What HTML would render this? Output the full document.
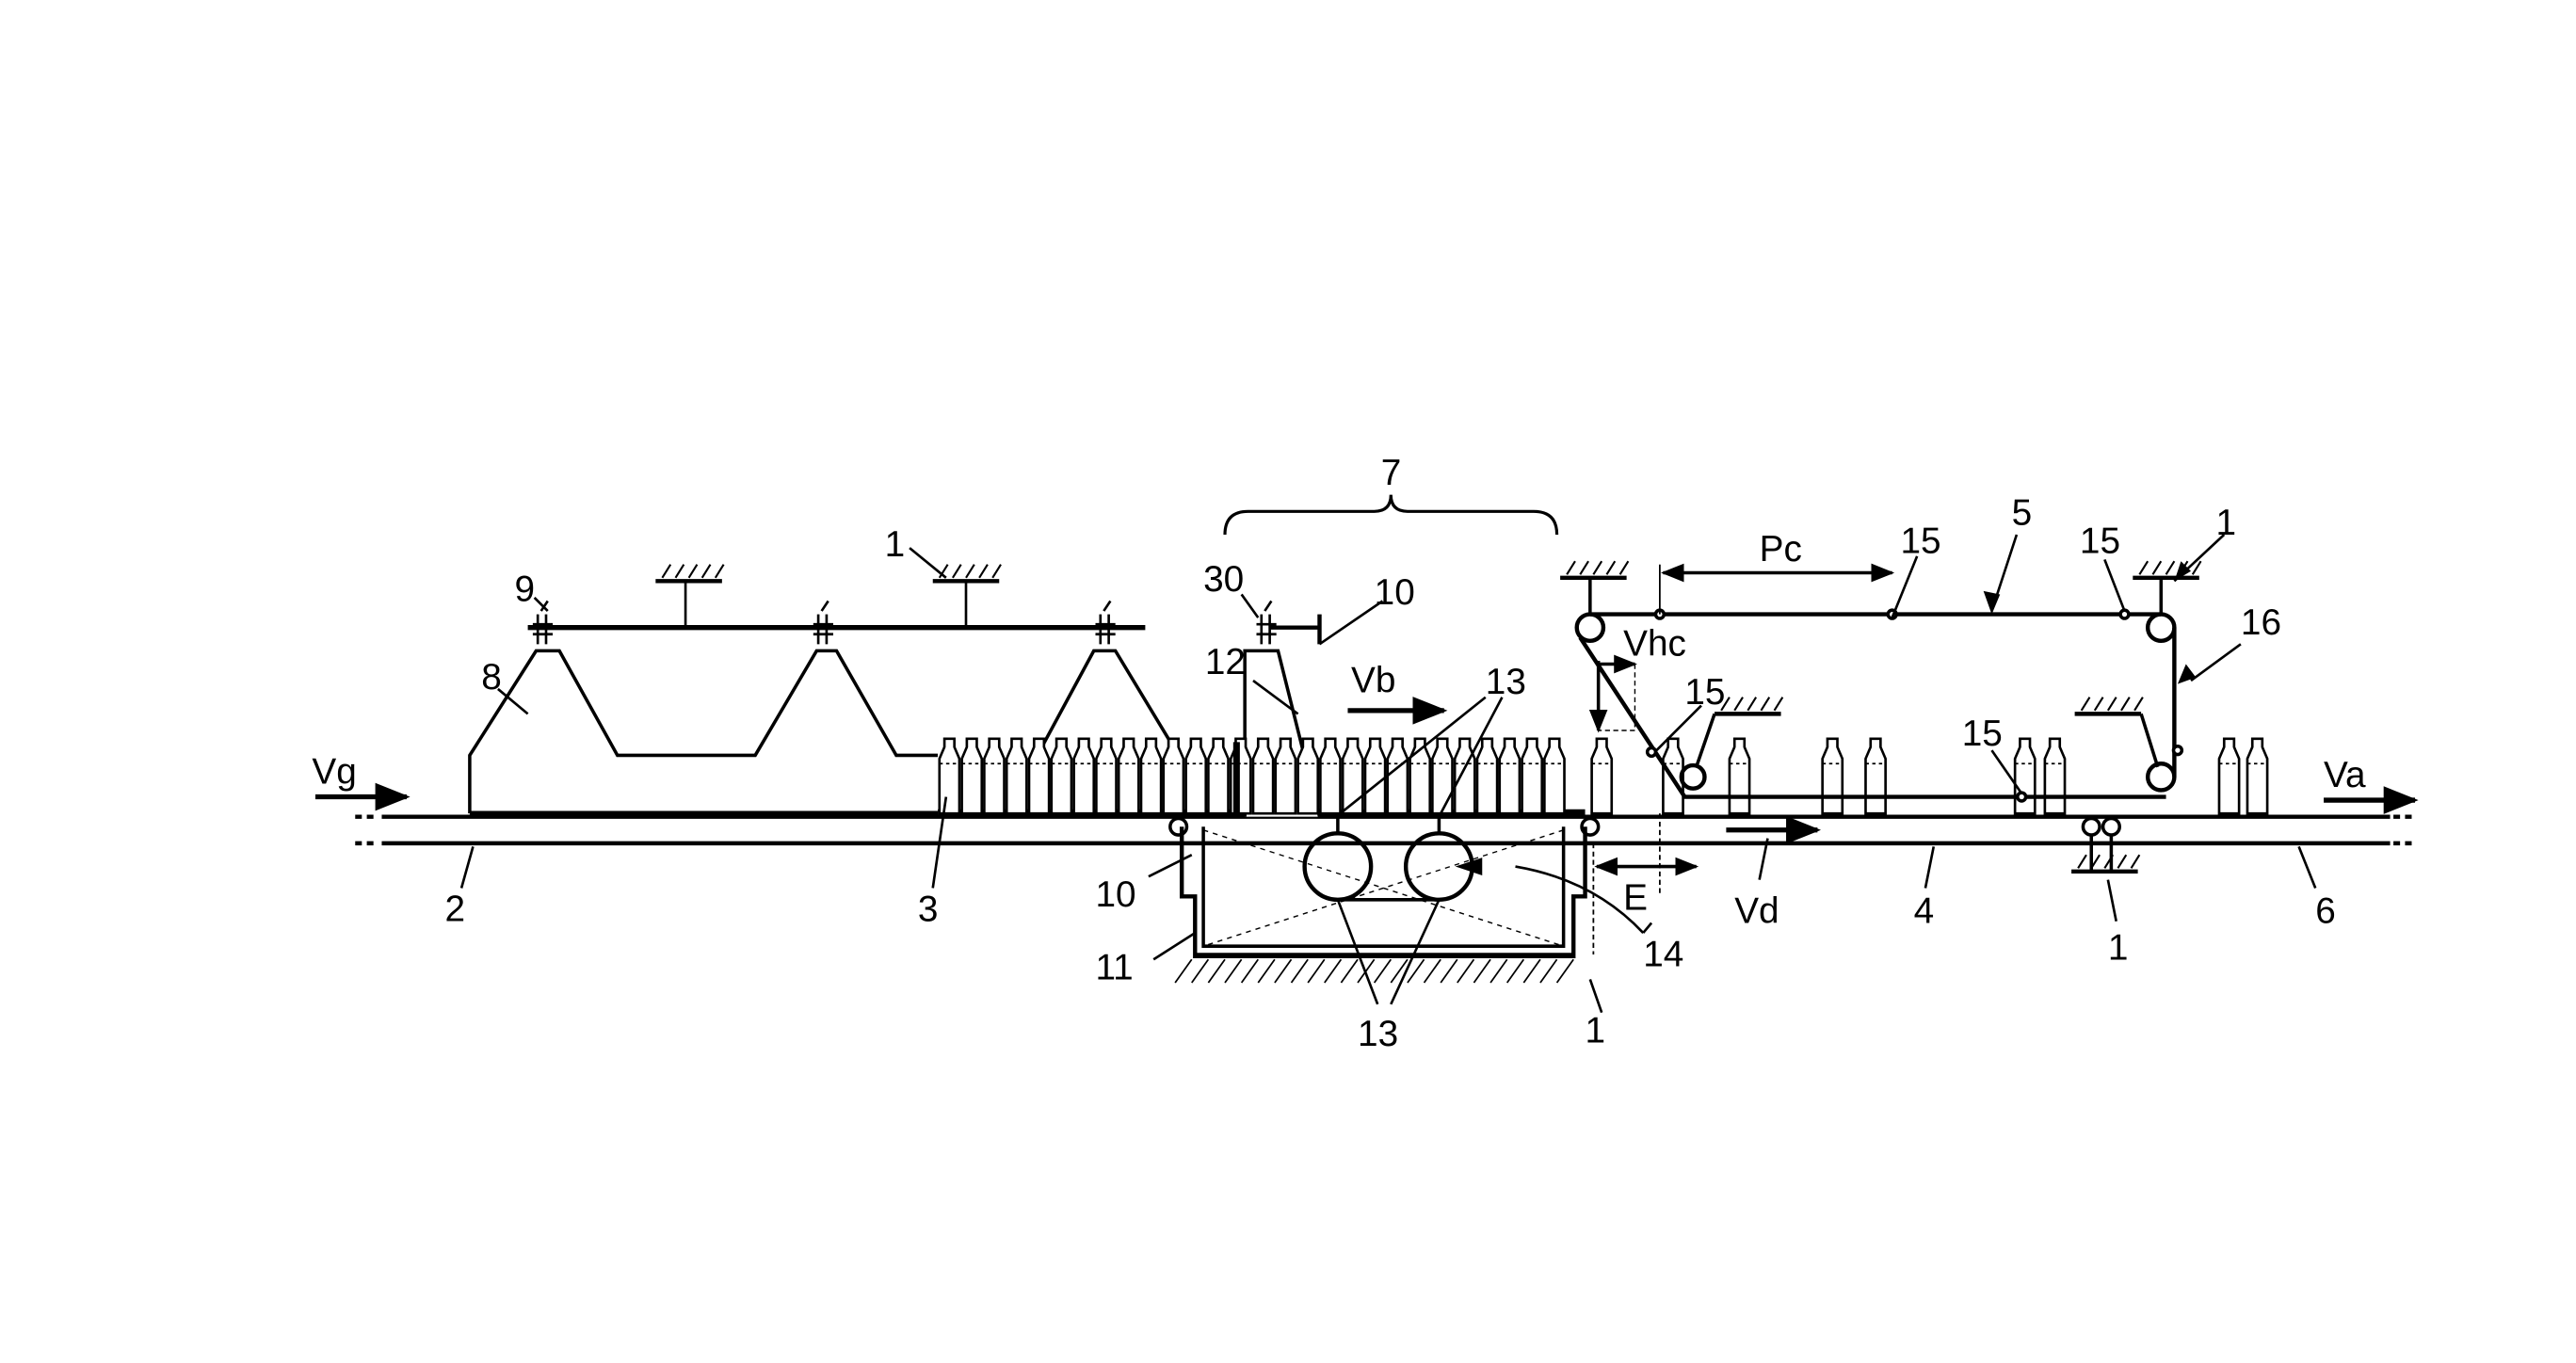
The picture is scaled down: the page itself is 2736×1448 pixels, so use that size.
<!DOCTYPE html>
<html><head><meta charset="utf-8"><style>html,body{margin:0;padding:0;background:#fff}svg{display:block}</style></head>
<body>
<svg id="s" width="2736" height="1448" viewBox="0 0 1552 821" xmlns="http://www.w3.org/2000/svg" font-family="Liberation Sans, sans-serif" font-size="22" fill="none" stroke="#000" stroke-width="2">
<defs>
<g id="b"><path d="M-6,0 V-33 L-3,-40 V-45 H3 V-40 L6,-33 V0 Z" fill="#fff"/><path d="M-6,-30 H6" stroke-dasharray="2,2" stroke-width="1"/></g>
<g id="gnd"><path d="M0,0 H40" stroke-width="2.5"/><path d="M4,-2 l5,-8 M12,-2 l5,-8 M20,-2 l5,-8 M28,-2 l5,-8 M36,-2 l5,-8" stroke-width="1.2"/></g>
<marker id="ah" viewBox="0 0 10 10" refX="9" refY="5" markerWidth="7" markerHeight="7" orient="auto-start-reverse"><path d="M0,1 L10,5 L0,9 Z" fill="#000" stroke="none"/></marker>
</defs>
<!-- conveyor -->
<path d="M230,492 H1440 M230,508 H1440" stroke-width="2.5"/>
<path d="M214,492 H228 M214,508 H228 M1442,492 H1456 M1442,508 H1456" stroke-dasharray="4,3" stroke-width="2.5"/>
<path d="M283,490 H565" stroke-width="3"/>
<path d="M565,490 H955" stroke-width="5"/>
<!-- trapezoid 8 -->
<path d="M283,490 V455 L323,392 H337 L372,455 H455 L492,392 H504 L540,455 H565 M625,455 L659,392 H672 L710,455"/>
<!-- top bar -->
<path d="M318,378 H690" stroke-width="3"/>
<path d="M413,350 V378 M582,350 V378" stroke-width="1.5"/>
<use href="#gnd" x="395" y="350"/><use href="#gnd" x="562" y="350"/>
<g stroke-width="1.5"><path d="M324,370 V388 M329,370 V388 M321,376 H333 M321,382 H333 M326,368 l4,-6"/>
<path d="M493,370 V388 M498,370 V388 M490,376 H502 M490,382 H502 M495,368 l4,-6"/>
<path d="M663,370 V388 M668,370 V388 M660,376 H672 M660,382 H672 M665,368 l4,-6"/>
<path d="M760,370 V388 M765,370 V388 M757,376 H769 M757,382 H769 M762,368 l4,-6"/></g>
<!-- unit 12 -->
<path d="M750,492 V392 H770 L795,492" fill="#fff"/>
<path d="M765,378 H795 M795,370 V388" stroke-width="2.5"/>
<!-- bottles -->
<g id="bot" stroke-width="1.5"></g>
<path d="M745,447 V492" stroke-width="4"/>
<!-- box 11 -->
<path d="M712,498 V540 H720 V576 H948 V540 H955 V498" stroke-width="2.5"/>
<path d="M725,498 V570 H942 V498"/>
<path d="M725,500 L942,570 M942,500 L725,570" stroke-width="0.8" stroke-dasharray="3,3"/>
<path d="M720,575 H948" stroke-width="2"/>
<g stroke-width="1"><path d="M708,592 l10,-14 M718,592 l10,-14 M728,592 l10,-14 M738,592 l10,-14 M748,592 l10,-14 M758,592 l10,-14 M768,592 l10,-14 M778,592 l10,-14 M788,592 l10,-14 M798,592 l10,-14 M808,592 l10,-14 M818,592 l10,-14 M828,592 l10,-14 M838,592 l10,-14 M848,592 l10,-14 M858,592 l10,-14 M868,592 l10,-14 M878,592 l10,-14 M888,592 l10,-14 M898,592 l10,-14 M908,592 l10,-14 M918,592 l10,-14 M928,592 l10,-14 M938,592 l10,-14"/></g>
<circle cx="806" cy="522" r="20" stroke-width="2.5"/><circle cx="867" cy="522" r="20" stroke-width="2.5"/>
<path d="M806,502 V492 M867,502 V492 M806,542 H867"/>
<circle cx="710" cy="498" r="5"/><circle cx="958" cy="498" r="5"/>
<!-- leaders center -->
<path d="M805,492 L895,420 M867,492 L905,420 M830,605 L806,542 M838,605 L867,542 M913,522 Q960,530 990,562" stroke-width="1.5"/>
<path d="M880,522 l12,-4 v8 z" fill="#000"/>
<!-- brace 7 -->
<path d="M738,322 Q738,308 752,308 H828 Q838,308 838,298 Q838,308 848,308 H924 Q938,308 938,322" stroke-width="1.8"/>
<!-- right conveyor 5 -->
<path d="M958,370 H1302" stroke-width="2.5"/>
<circle cx="958" cy="378" r="8" stroke-width="2.5"/><circle cx="1302" cy="378" r="8" stroke-width="2.5"/>
<circle cx="1302" cy="468" r="8" stroke-width="2.5"/><circle cx="1020" cy="468" r="7" stroke-width="2.5"/>
<path d="M952,384 L1015,480 H1305 M1310,378 V468" stroke-width="2.5"/>
<path d="M958,348 V370 M1302,348 V370" stroke-width="2"/>
<use href="#gnd" x="940" y="348"/><use href="#gnd" x="1285" y="348"/>
<use href="#gnd" x="1033" y="430"/><use href="#gnd" x="1250" y="430"/>
<path d="M1033,430 L1022,462 M1290,430 L1300,462" stroke-width="2"/>
<circle cx="1000" cy="370" r="2.5" fill="#fff"/><circle cx="1140" cy="370" r="2.5" fill="#fff"/><circle cx="1280" cy="370" r="2.5" fill="#fff"/><circle cx="1312" cy="452" r="2.5" fill="#fff"/><circle cx="995" cy="453" r="2.5" fill="#fff"/><circle cx="1218" cy="480" r="2.5" fill="#fff"/>
<!-- dimension Pc -->
<path d="M1000,340 V370" stroke-width="1"/>
<path d="M1002,345 H1140" stroke-width="2" marker-start="url(#ah)" marker-end="url(#ah)"/>
<!-- Vhc -->
<path d="M963,398 V440" stroke-width="2" marker-end="url(#ah)"/>
<path d="M963,400 H985" stroke-width="2" marker-end="url(#ah)"/>
<path d="M985,400 V440 H963" stroke-width="0.8" stroke-dasharray="3,2"/>
<!-- E -->
<path d="M960,508 V575 M1000,490 V540" stroke-width="1" stroke-dasharray="3,2"/>
<path d="M962,522 H1022" stroke-width="2" marker-start="url(#ah)" marker-end="url(#ah)"/>
<!-- rollers near 1 right -->
<circle cx="1260" cy="498" r="5"/><circle cx="1272" cy="498" r="5"/>
<path d="M1260,503 V525 M1272,503 V525"/><use href="#gnd" x="1248" y="525" transform="translate(0,0)"/>
<!-- speed arrows -->
<path d="M190,480 H245" stroke-width="3" marker-end="url(#ah)"/>
<path d="M812,428 H870" stroke-width="3" marker-end="url(#ah)"/>
<path d="M1040,500 H1095" stroke-width="3" marker-end="url(#ah)"/>
<path d="M1400,482 H1455" stroke-width="3" marker-end="url(#ah)"/>
<!-- leaders -->
<g stroke-width="1.5">
<path d="M285,510 L278,535 M570,480 L562,535 M718,515 L692,528 M720,562 L695,578 M958,590 L965,610 M990,562 L995,556 M1065,505 L1060,530 M1165,510 L1160,535 M1270,530 L1275,555 M1385,510 L1395,535"/>
<path d="M330,368 L322,360 M318,430 L300,415 M570,348 L548,330 M758,372 L748,358 M795,388 L833,362 M782,430 L755,410"/>
<path d="M1140,372 L1155,335 M1280,368 L1268,337 M998,452 L1025,425 M1218,478 L1200,452"/>
<path d="M1320,410 L1350,388 M1310,350 L1340,322 M1200,368 L1215,322"/>
</g>
<path d="M1200,370 l-5,-14 l10,2 z M1312,412 l5,-12 l6,8 z M1310,350 l4,-12 l6,6 z" fill="#000" stroke="none"/>
<!-- text -->
<g fill="#000" stroke="none">
<text x="188" y="472">Vg</text><text x="268" y="555">2</text><text x="553" y="555">3</text>
<text x="290" y="415">8</text><text x="310" y="362">9</text><text x="533" y="335">1</text>
<text x="832" y="292">7</text><text x="725" y="356">30</text><text x="828" y="364">10</text>
<text x="726" y="406">12</text><text x="814" y="417">Vb</text><text x="895" y="418">13</text>
<text x="818" y="630">13</text><text x="660" y="546">10</text><text x="660" y="590">11</text>
<text x="990" y="582">14</text><text x="955" y="628">1</text><text x="978" y="548">E</text>
<text x="1045" y="556">Vd</text><text x="1153" y="556">4</text><text x="1270" y="578">1</text>
<text x="1395" y="556">6</text><text x="1060" y="338">Pc</text><text x="1145" y="333">15</text>
<text x="1253" y="333">15</text><text x="1015" y="424">15</text><text x="1182" y="449">15</text>
<text x="1212" y="316">5</text><text x="1335" y="322">1</text><text x="1350" y="382">16</text>
<text x="978" y="395">Vhc</text><text x="1400" y="474">Va</text>
</g>
</svg>
<script>
var g=document.getElementById('bot'),ns='http://www.w3.org/2000/svg',xs=[];
for(var i=0;i<28;i++)xs.push(572+i*13.5);
xs=xs.concat([965,1008,1048,1104,1130,1220,1238,1343,1360]);
xs.forEach(function(x){var u=document.createElementNS(ns,'use');u.setAttribute('href','#b');u.setAttribute('x',x);u.setAttribute('y',490);g.appendChild(u);});
</script>
</body></html>
